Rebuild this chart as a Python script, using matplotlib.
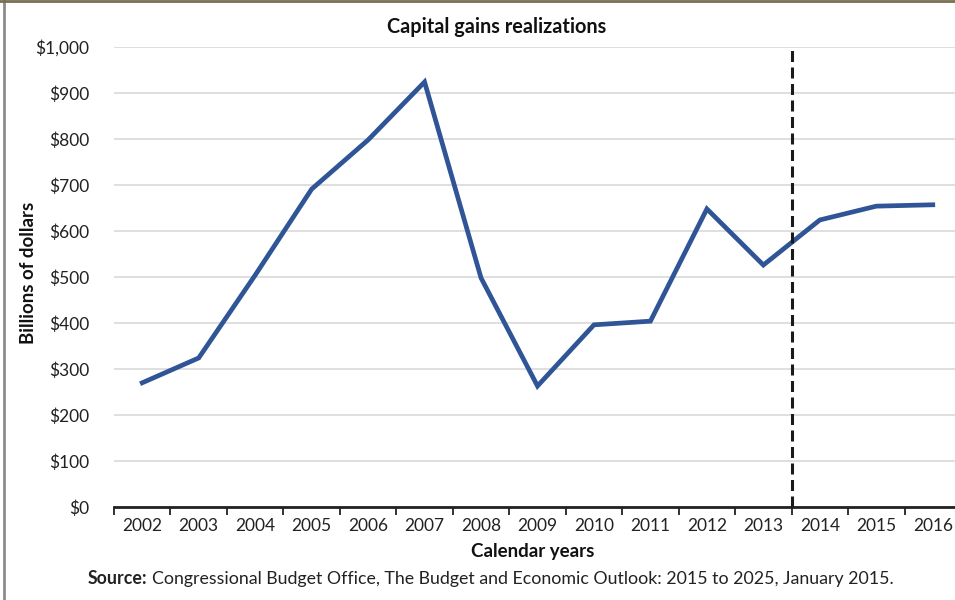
import matplotlib
matplotlib.use("Agg")
import matplotlib.pyplot as plt
from matplotlib.lines import Line2D
from matplotlib.ticker import FuncFormatter, MultipleLocator

years = ["2002", "2003", "2004", "2005", "2006", "2007", "2008", "2009",
         "2010", "2011", "2012", "2013", "2014", "2015", "2016"]
realizations = [270, 324, 504, 691, 798, 924, 498, 263, 396, 404, 648, 526, 624, 654, 657]
projection_boundary = 11.5  # between 2013 and 2014

plt.rcParams['font.family'] = ['Lato', 'DejaVu Sans']

fig = plt.figure(figsize=(9.55, 6.0), dpi=100)
W, H = 955, 600
ax = fig.add_axes([114 / W, 1 - 507 / H, (961 - 114) / W, (507 - 47) / H])

x = list(range(len(years)))
ax.plot(x, realizations, color="#2F5597", lw=3.4, solid_joinstyle="miter", zorder=3)
ax.axvline(projection_boundary, color="#1a1a1a", lw=2.2, ls=(0, (3.6, 1.8)), zorder=4)

ax.set_xlim(-0.5, len(years) - 0.5)
ax.set_ylim(0, 1000)
ax.yaxis.set_major_locator(MultipleLocator(100))
ax.yaxis.set_major_formatter(FuncFormatter(lambda v, p: f"${int(v):,}"))
ax.set_xticks(x)
ax.set_xticklabels(years)
ax.set_xticks([i + 0.5 for i in range(-1, len(years))], minor=True)
ax.tick_params(axis="x", which="major", length=0, pad=8, labelsize=12.5, colors="#222222")
ax.tick_params(axis="x", which="minor", length=6, width=1.3, color="#222222", direction="out")
ax.tick_params(axis="y", length=0, pad=18, labelsize=12.5, colors="#222222")

ax.grid(axis="y", color="#d9d9d9", lw=1.2)
ax.set_axisbelow(True)
for s in ["top", "right", "left"]:
    ax.spines[s].set_visible(False)
ax.spines["bottom"].set_color("#222222")
ax.spines["bottom"].set_linewidth(2)

fig.text(497 / W, 1 - 27 / H, "Capital gains realizations", ha="center", va="center",
         fontsize=14.3, fontweight="bold", color="#111111")
fig.text(28 / W, 1 - 273 / H, "Billions of dollars", rotation=90, ha="center", va="center",
         fontsize=13.4, fontweight="bold", color="#111111")
fig.text(533 / W, 1 - 551 / H, "Calendar years", ha="center", va="center",
         fontsize=13.5, fontweight="bold", color="#111111")
src = fig.text(88 / W, 1 - 579 / H, "Source:", ha="left", va="center",
               fontsize=12.8, fontweight="bold", color="#222222")
fig.canvas.draw()
bb = src.get_window_extent()
fig.text(bb.x1 / W + 4 / W, 1 - 579 / H,
         "Congressional Budget Office, The Budget and Economic Outlook: 2015 to 2025, January 2015.",
         ha="left", va="center", fontsize=12.8, color="#222222")

# frame lines
fig.add_artist(Line2D([3.5 / W, 3.5 / W], [0, 1], transform=fig.transFigure, color="#8c8c8c", lw=2))
fig.add_artist(Line2D([0, 1], [1 - 0.5 / H, 1 - 0.5 / H], transform=fig.transFigure, color="#7a6e55", lw=2))

fig.savefig("out.png", dpi=100)
